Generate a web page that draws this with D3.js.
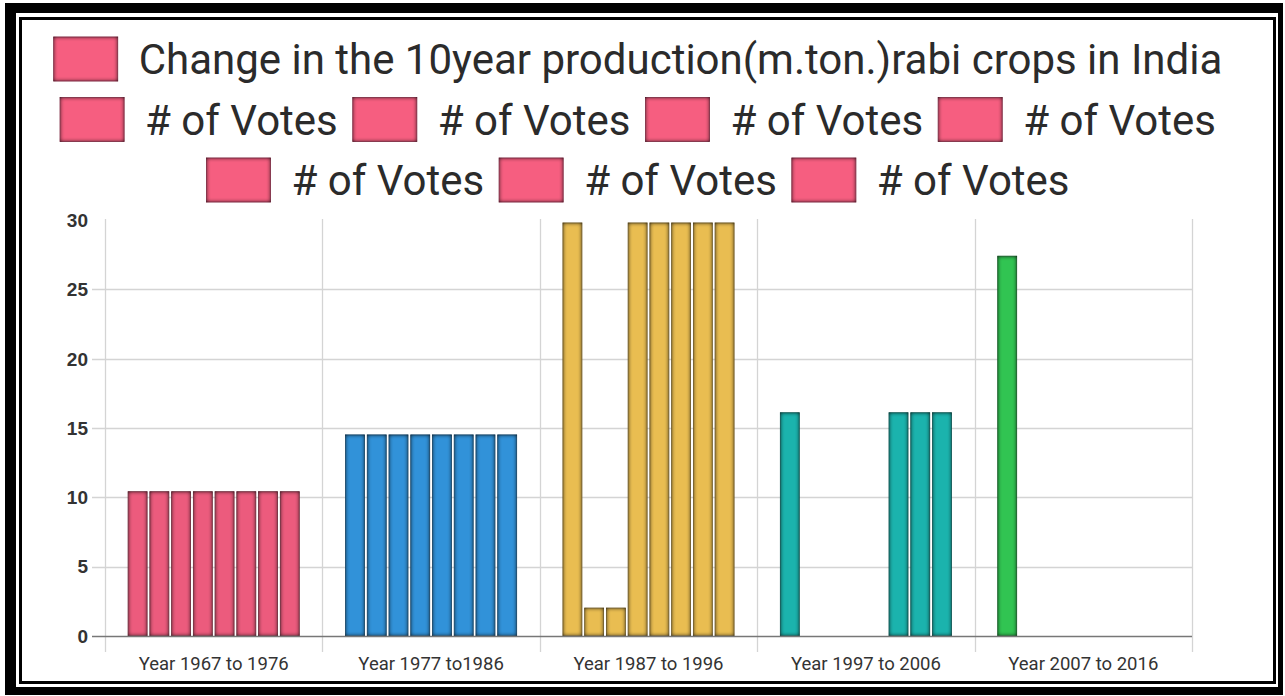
<!DOCTYPE html>
<html>
<head>
<meta charset="utf-8">
<script src="https://cdn.jsdelivr.net/npm/d3@7"></script>
<style>
  html, body { margin: 0; padding: 0; background: #fff; }
  svg { display: block; }
</style>
</head>
<body>
<svg id="chart" width="1285" height="696"></svg>
<script>
// ---------- data ----------
const categories = ["Year 1967 to 1976", "Year 1977 to1986", "Year 1987 to 1996", "Year 1997 to 2006", "Year 2007 to 2016"];
const seriesNames = [
  "Change in the 10year production(m.ton.)rabi crops in India",
  "# of Votes", "# of Votes", "# of Votes", "# of Votes", "# of Votes", "# of Votes", "# of Votes"
];
const series1 = [10.4, 14.5, 29.8, 16.1, 27.4];
const series2 = [10.4, 14.5, 2.0, 0, 0];
const series3 = [10.4, 14.5, 2.0, 0, 0];
const series4 = [10.4, 14.5, 29.8, 0, 0];
const series5 = [10.4, 14.5, 29.8, 0, 0];
const series6 = [10.4, 14.5, 29.8, 16.1, 0];
const series7 = [10.4, 14.5, 29.8, 16.1, 0];
const series8 = [10.4, 14.5, 29.8, 16.1, 0];
const allSeries = [series1, series2, series3, series4, series5, series6, series7, series8];
const categoryColors = ["#ec5b7d", "#3192d9", "#e9bd51", "#1bb3ad", "#31c452"];
const legendColor = "#f65e80";
const yTicks = [0, 5, 10, 15, 20, 25, 30];

// ---------- setup ----------
const svg = d3.select("#chart");
const W = 1285, H = 696;

const defs = svg.append("defs");
const f = defs.append("filter").attr("id", "inset")
  .attr("x", "-50%").attr("y", "-50%").attr("width", "200%").attr("height", "200%")
  .attr("color-interpolation-filters", "sRGB");
f.append("feFlood").attr("flood-color", "#000").attr("flood-opacity", 1).attr("result", "flood");
f.append("feComposite").attr("in", "flood").attr("in2", "SourceAlpha").attr("operator", "out").attr("result", "outside");
f.append("feGaussianBlur").attr("in", "outside").attr("stdDeviation", 2).attr("result", "blur");
f.append("feComposite").attr("in", "blur").attr("in2", "SourceAlpha").attr("operator", "in").attr("result", "shadow");
f.append("feComponentTransfer").attr("in", "shadow").attr("result", "shadow2")
  .append("feFuncA").attr("type", "linear").attr("slope", 0.9);
const fm = f.append("feMerge");
fm.append("feMergeNode").attr("in", "SourceGraphic");
fm.append("feMergeNode").attr("in", "shadow2");

// ---------- frame ----------
svg.append("rect").attr("x", 0).attr("y", 0).attr("width", W).attr("height", H).attr("fill", "#fff");
svg.append("path")
  .attr("fill", "#000")
  .attr("fill-rule", "evenodd")
  .attr("d", "M5,3H1283V695H5Z M16,13V687H1278V13Z");
svg.append("rect").attr("x", 20.5).attr("y", 18.5).attr("width", 1254).attr("height", 664)
  .attr("fill", "none").attr("stroke", "#000").attr("stroke-width", 3);

// ---------- scales ----------
const x0 = 105, x1 = 1192, yTop = 220.2, yBase = 635.8;
const x = d3.scaleBand().domain(categories).range([x0, x1]).paddingInner(0).paddingOuter(0);
const inner = d3.scaleBand().domain(d3.range(allSeries.length))
  .range([0.1 * x.bandwidth(), 0.9 * x.bandwidth()]).paddingInner(0.13).paddingOuter(0.065);
const y = d3.scaleLinear().domain([0, 30]).range([yBase, yTop]);

// ---------- grid ----------
const grid = svg.append("g");
grid.selectAll("line.h").data(yTicks.filter(d => d > 0 && d < 30)).enter().append("line")
  .attr("x1", 92).attr("x2", x1)
  .attr("y1", d => Math.round(y(d)) + 0.5).attr("y2", d => Math.round(y(d)) + 0.5)
  .attr("stroke", "#d4d4d4").attr("stroke-width", 1.3);
const vlines = categories.map(c => x(c)).concat([x1]);
grid.selectAll("line.v").data(vlines).enter().append("line")
  .attr("x1", d => Math.round(d) + 0.5).attr("x2", d => Math.round(d) + 0.5)
  .attr("y1", 219).attr("y2", 652)
  .attr("stroke", "#d4d4d4").attr("stroke-width", 1.3);

// ---------- bars ----------
const barsG = svg.append("g");
categories.forEach((cat, ci) => {
  allSeries.forEach((s, si) => {
    const v = s[ci];
    if (!v) return;
    barsG.append("rect")
      .attr("x", x(cat) + inner(si))
      .attr("y", y(v))
      .attr("width", inner.bandwidth())
      .attr("height", y(0) - y(v))
      .attr("fill", categoryColors[ci])
      .attr("stroke", d3.color(categoryColors[ci]).darker(0.8))
      .attr("stroke-width", 0.8)
      .attr("filter", "url(#inset)");
  });
});

// zero line
svg.append("line").attr("x1", 92).attr("x2", x1)
  .attr("y1", Math.round(y(0)) + 0.5).attr("y2", Math.round(y(0)) + 0.5)
  .attr("stroke", "#777").attr("stroke-width", 1.3);

// ---------- y axis labels ----------
svg.append("g").selectAll("text").data(yTicks).enter().append("text")
  .attr("x", 88).attr("y", d => y(d))
  .attr("dy", "0.36em")
  .attr("text-anchor", "end")
  .attr("font-family", "Liberation Sans, Arial, sans-serif")
  .attr("font-weight", "bold")
  .attr("font-size", 19)
  .attr("fill", "#333")
  .text(d => d);

// ---------- x axis labels ----------
svg.append("g").selectAll("text").data(categories).enter().append("text")
  .attr("x", d => x(d) + x.bandwidth() / 2)
  .attr("y", 670)
  .attr("text-anchor", "middle")
  .attr("font-family", "Roboto, sans-serif")
  .attr("font-size", 18.5)
  .attr("fill", "#333")
  .text(d => d);

// ---------- legend ----------
const boxW = 64, boxH = 44, boxGap = 21, itemGap = 15, legendFont = 42;
const legendCenter = 638, rowYs = [59, 119.5, 180], maxRow = 1200;
const legendG = svg.append("g");
const meas = legendG.append("text").attr("font-family", "Roboto, sans-serif").attr("font-size", legendFont);
const items = seriesNames.map(n => {
  meas.text(n);
  const tw = meas.node().getComputedTextLength();
  return { name: n, tw, w: boxW + boxGap + tw };
});
meas.remove();
const rows = [];
let cur = [], curW = 0;
items.forEach(it => {
  const add = (cur.length ? itemGap : 0) + it.w;
  if (cur.length && curW + add > maxRow) { rows.push({ items: cur, w: curW }); cur = []; curW = 0; }
  curW += (cur.length ? itemGap : 0) + it.w;
  cur.push(it);
});
if (cur.length) rows.push({ items: cur, w: curW });
rows.forEach((row, ri) => {
  let cx = legendCenter - row.w / 2;
  const cy = rowYs[ri];
  row.items.forEach(it => {
    legendG.append("rect").attr("x", cx).attr("y", cy - boxH / 2).attr("width", boxW).attr("height", boxH)
      .attr("fill", legendColor).attr("stroke", "#c9456a").attr("stroke-width", 0.8)
      .attr("filter", "url(#inset)");
    legendG.append("text").attr("x", cx + boxW + boxGap).attr("y", cy).attr("dy", "0.36em")
      .attr("font-family", "Roboto, sans-serif").attr("font-size", legendFont).attr("fill", "#2b2b2b")
      .text(it.name);
    cx += it.w + itemGap;
  });
});
</script>
</body>
</html>
